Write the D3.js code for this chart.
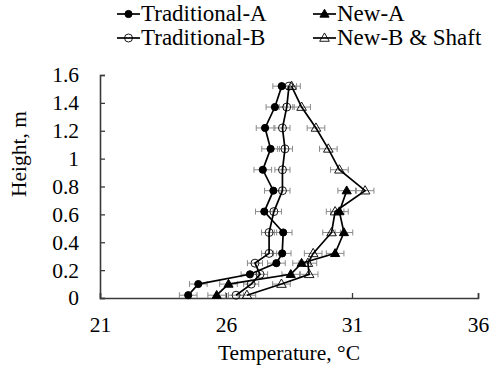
<!DOCTYPE html>
<html>
<head>
<meta charset="utf-8">
<script src="https://cdn.jsdelivr.net/npm/d3@7"></script>
<style>
  html, body { margin: 0; padding: 0; background: #fff; }
  svg { display: block; }
</style>
</head>
<body>
<svg id="chart" width="491" height="365" font-family="Liberation Serif, Times New Roman, serif"></svg>
<script>
// ---- data ----
const seriesNames = ["Traditional-A", "Traditional-B", "New-A", "New-B & Shaft"];
const heightsFull = [0.02, 0.1, 0.17, 0.25, 0.32, 0.47, 0.62, 0.77, 0.92, 1.07, 1.22, 1.37, 1.52];
const heightsNewA = [0.02, 0.1, 0.17, 0.25, 0.32, 0.47, 0.62, 0.77];
const tradA = [24.5, 24.9, 26.95, 28.0, 28.23, 28.27, 27.52, 27.88, 27.46, 27.77, 27.55, 27.94, 28.21];
const tradB = [26.4, 27.0, 27.35, 27.15, 27.71, 27.71, 27.9, 28.24, 28.24, 28.34, 28.24, 28.41, 28.5];
const newA  = [25.63, 26.1, 28.57, 29.0, 30.33, 30.68, 30.5, 30.79];
const newB  = [26.83, 28.2, 29.3, 29.25, 29.46, 30.19, 30.33, 31.52, 30.5, 30.06, 29.57, 29.0, 28.6];
const errTradA = 0.35, errTradB = 0.3, errNewA = 0.35, errNewB = 0.35;
const xTicks = [21, 26, 31, 36];
const yTicks = [0, 0.2, 0.4, 0.6, 0.8, 1, 1.2, 1.4, 1.6];
const xTitle = "Temperature, °C";
const yTitle = "Height, m";

const FONT = "'Liberation Serif', 'Times New Roman', serif";

// ---- build ----
const series = [
  { name: seriesNames[0], h: heightsFull, t: tradA, err: errTradA, marker: "circle", filled: true },
  { name: seriesNames[1], h: heightsFull, t: tradB, err: errTradB, marker: "circle", filled: false },
  { name: seriesNames[2], h: heightsNewA, t: newA, err: errNewA, marker: "triangle", filled: true },
  { name: seriesNames[3], h: heightsFull, t: newB, err: errNewB, marker: "triangle", filled: false }
];

const svg = d3.select("#chart");
const x = d3.scaleLinear().domain([21, 36]).range([100, 478]);
const y = d3.scaleLinear().domain([0, 1.6]).range([298, 75]);

// axes
const gx = svg.append("g").attr("transform", "translate(0,298)")
  .call(d3.axisBottom(x).tickValues(xTicks).tickSize(-5).tickPadding(19).tickFormat(d3.format("d")));
const gy = svg.append("g").attr("transform", "translate(100,0)")
  .call(d3.axisLeft(y).tickValues(yTicks).tickSize(-5).tickPadding(21).tickFormat(d => d === 0 || d === 1 ? String(d) : d3.format(".1f")(d)));
[gx, gy].forEach(g => {
  g.attr("font-family", null).attr("font-size", null);
  g.select(".domain").attr("stroke", "#3a3a3a").attr("stroke-width", 1.6);
  g.selectAll(".tick line").attr("stroke", "#3a3a3a").attr("stroke-width", 1.3);
  g.selectAll(".tick text").style("font-family", FONT).style("font-size", "21.5px").attr("fill", "#000");
});
gx.selectAll(".tick text").attr("dy", "0.71em");
gy.selectAll(".tick text").attr("text-anchor", "end").attr("x", -21);

svg.append("text").attr("x", 289).attr("y", 360).attr("text-anchor", "middle")
  .style("font-family", FONT).style("font-size", "21.5px").text(xTitle);
svg.append("text").attr("transform", "translate(26,154) rotate(-90)").attr("text-anchor", "middle")
  .style("font-family", FONT).style("font-size", "21.5px").text(yTitle);

const plot = svg.append("g");

// error bars
series.forEach(s => {
  const pts = s.h.map((h, i) => ({ h, t: s.t[i] }));
  const eg = plot.append("g").attr("stroke", "#8a8a8a").attr("stroke-width", 1);
  pts.forEach(p => {
    const yy = y(p.h), x1 = x(p.t - s.err), x2 = x(p.t + s.err);
    eg.append("line").attr("x1", x1).attr("x2", x2).attr("y1", yy).attr("y2", yy);
    eg.append("line").attr("x1", x1).attr("x2", x1).attr("y1", yy - 3).attr("y2", yy + 3);
    eg.append("line").attr("x1", x2).attr("x2", x2).attr("y1", yy - 3).attr("y2", yy + 3);
  });
});

// lines
const line = d3.line().x(d => x(d.t)).y(d => y(d.h));
series.forEach(s => {
  const pts = s.h.map((h, i) => ({ h, t: s.t[i] }));
  plot.append("path").datum(pts).attr("d", line).attr("fill", "none")
    .attr("stroke", "#000").attr("stroke-width", 1.7);
});

// markers
function drawMarker(g, s, cx, cy) {
  if (s.marker === "circle") {
    g.append("circle").attr("cx", cx).attr("cy", cy).attr("r", s.filled ? 3.6 : 4)
      .attr("fill", s.filled ? "#000" : "none").attr("stroke", "#000").attr("stroke-width", s.filled ? 1 : 0.9);
  } else {
    g.append("path").attr("d", d3.symbol().type(d3.symbolTriangle).size(s.filled ? 36 : 40)())
      .attr("transform", `translate(${cx},${cy + 0.5})`)
      .attr("fill", s.filled ? "#000" : "none").attr("stroke", "#000").attr("stroke-width", s.filled ? 1 : 0.9);
  }
}
series.forEach(s => {
  const mg = plot.append("g");
  s.h.forEach((h, i) => drawMarker(mg, s, x(s.t[i]), y(h)));
});

// legend: column 1 = Traditional-A / Traditional-B, column 2 = New-A / New-B & Shaft
const legendItems = [
  { s: series[0], lx: 117, ly: 14 },
  { s: series[1], lx: 117, ly: 38 },
  { s: series[2], lx: 313, ly: 14 },
  { s: series[3], lx: 313, ly: 38 }
];
const lg = svg.append("g");
legendItems.forEach(it => {
  lg.append("line").attr("x1", it.lx).attr("x2", it.lx + 23).attr("y1", it.ly).attr("y2", it.ly)
    .attr("stroke", "#000").attr("stroke-width", 1.7);
  drawMarker(lg, it.s, it.lx + 11.5, it.ly);
  lg.append("text").attr("x", it.lx + 24).attr("y", it.ly + 7)
    .style("font-family", FONT).style("font-size", "23px").text(it.s.name);
});
</script>
</body>
</html>
